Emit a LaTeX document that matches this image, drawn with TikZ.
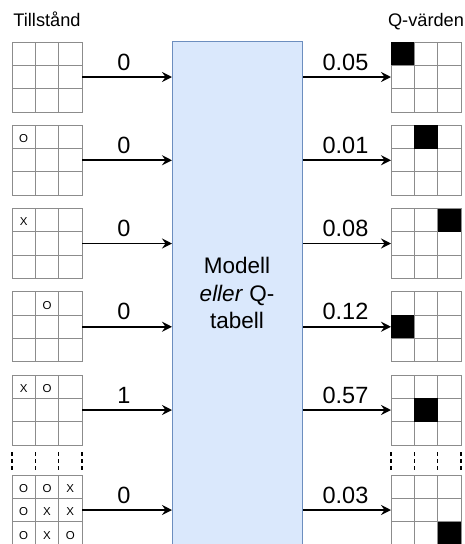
\documentclass[tikz,border=0pt]{standalone}
\usepackage{fontspec}
\setmainfont{Liberation Sans}
\usetikzlibrary{arrows.meta,calc}
\definecolor{boxfill}{HTML}{DAE8FC}
\definecolor{boxline}{HTML}{6C8EBF}
\definecolor{gridgray}{HTML}{8C8C8C}
\tikzset{
  gridbox/.style={draw=gridgray, line width=1pt, minimum size=70pt, inner sep=0pt, outer sep=0pt},
  gridline/.style={draw=gridgray, line width=1pt},
  cellmark/.style={inner sep=0pt, font=\fontsize{11.5}{13}\selectfont},
  blackcell/.style={fill=black},
  arr/.style={line width=1.8pt, -{Stealth[length=10pt,width=10pt,inset=3.5pt]}},
  vallabel/.style={inner sep=0pt, anchor=base, font=\fontsize{23.5}{27}\selectfont},
  header/.style={inner sep=0pt, anchor=base, font=\fontsize{18.2}{22}\selectfont},
  modelbox/.style={draw=boxline, fill=boxfill, line width=1pt, minimum width=130pt, minimum height=520pt, anchor=north west, inner sep=0pt},
  dots/.style={line width=1.5pt, dash pattern=on 3.5pt off 3.5pt}
}
\begin{document}
\begin{tikzpicture}[x=1pt,y=-1pt]
\useasboundingbox (0,0) rectangle (464,544);
\clip (0,0) rectangle (464,544);
% model box
\node[modelbox] (box) at (172,41) {};
\node[align=center, inner sep=0pt, font=\fontsize{22.5}{27.6}\selectfont] (boxtext) at (237,293) {Modell\\\textit{eller} Q-\\tabell};
% headers
\node[header] (hl) at (47,26.7) {Tillstånd};
\node[header] (hr) at (426,26.7) {Q-värden};
% grids
\foreach \i/\t/\lv/\rv in {1/42/0/0.05, 2/125.25/0/0.01, 3/208.5/0/0.08, 4/291.75/0/0.12, 5/375/1/0.57, 6/475/0/0.03}{
  \node[gridbox] (s\i) at (47,\t+35) {};
  \node[gridbox] (q\i) at (426,\t+35) {};
  \foreach \g in {s\i,q\i}{
    \draw[gridline] ($(\g.north west)+(23.333,0)$) -- ($(\g.south west)+(23.333,0)$);
    \draw[gridline] ($(\g.north west)+(46.667,0)$) -- ($(\g.south west)+(46.667,0)$);
    \draw[gridline] ($(\g.north west)+(0,23.333)$) -- ($(\g.north east)+(0,23.333)$);
    \draw[gridline] ($(\g.north west)+(0,46.667)$) -- ($(\g.north east)+(0,46.667)$);
  }
  \coordinate (la\i) at (s\i.east -| box.west);
  \coordinate (ra\i) at (q\i.west -| box.east);
  \draw[arr] (s\i.east) -- (la\i);
  \draw[arr] (ra\i) -- (q\i.west);
  \node[vallabel] (lv\i) at ($(s\i.east)!0.5!(la\i)+(-3,-7)$) {\lv};
  \node[vallabel] (rv\i) at ($(ra\i)!0.5!(q\i.west)+(-1.5,-7)$) {\rv};
}
% black cells in Q-value grids: grid/row/col
\foreach \i/\r/\c in {1/0/0, 2/0/1, 3/0/2, 4/1/0, 5/1/1, 6/2/2}{
  \fill[blackcell] ($(q\i.north west)+(23.333*\c,23.333*\r)$) rectangle ++(23.333,23.333);
}
% marks in state grids
\foreach \i/\r/\c/\m in {2/0/0/O, 3/0/0/X, 4/0/1/O, 5/0/0/X, 5/0/1/O,
  6/0/0/O, 6/0/1/O, 6/0/2/X, 6/1/0/O, 6/1/1/X, 6/1/2/X, 6/2/0/O, 6/2/1/X, 6/2/2/O}{
  \node[cellmark] at ($(s\i.north west)+(11.667+23.333*\c,13.5+23.333*\r)$) {\m};
}
% dashed continuation marks
\foreach \k in {0,1,2,3}{
  \draw[dots] ($(s5.south west)+(23.333*\k,7)$) -- ($(s6.north west)+(23.333*\k,-5)$);
  \draw[dots] ($(q5.south west)+(23.333*\k,7)$) -- ($(q6.north west)+(23.333*\k,-5)$);
}
\end{tikzpicture}
\end{document}
